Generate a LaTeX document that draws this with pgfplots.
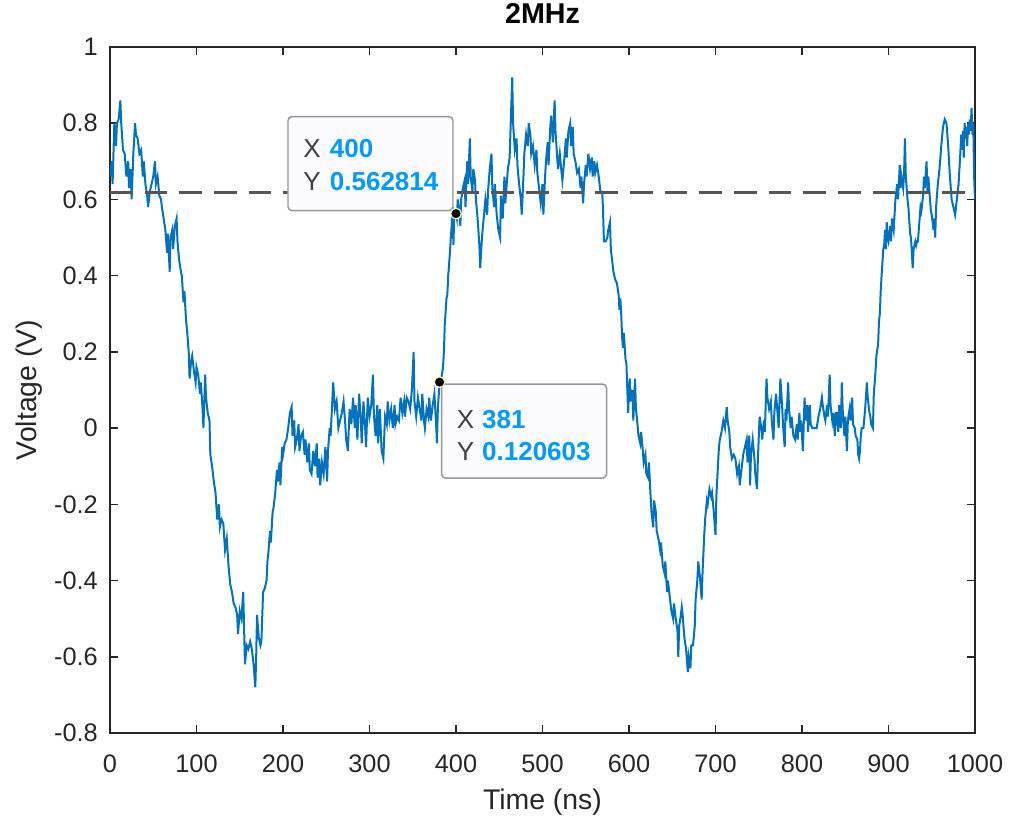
\documentclass[border=0pt]{standalone}
\usepackage{pgfplots}
\pgfplotsset{compat=1.18}
\usepackage{fontspec}
\setmainfont{Liberation Sans}
\definecolor{mblue}{RGB}{0,114,189}
\definecolor{axgray}{RGB}{38,38,38}
\definecolor{tipblue}{RGB}{0,153,255}
\definecolor{tipgray}{RGB}{64,64,64}
\definecolor{tipbg}{RGB}{250,250,255}
\definecolor{tipborder}{RGB}{150,150,150}
\definecolor{dashgray}{RGB}{85,85,85}

\pgfplotstableread{
x y
0 0.66
2 0.70
3 0.64
5 0.80
7 0.74
8 0.80
10 0.81
12 0.86
13 0.80
15 0.73
17 0.72
19 0.66
21 0.70
22 0.63
24 0.68
25 0.60
27 0.72
29 0.80
30 0.77
32 0.76
34 0.72
36 0.73
38 0.66
39 0.70
41 0.64
43 0.61
44 0.58
46 0.62
48 0.64
50 0.66
52 0.70
53 0.64
55 0.66
57 0.61
59 0.60
60 0.58
62 0.55
64 0.52
66 0.46
67 0.51
69 0.41
70 0.50
72 0.52
73 0.47
75 0.53
77 0.55
78 0.49
80 0.44
82 0.41
83 0.40
85 0.33
86 0.36
88 0.28
89 0.26
91 0.20
92 0.13
94 0.18
95 0.19
97 0.15
99 0.12
100 0.16
102 0.14
104 0.09
105 0.12
107 0.05
108 0.00
110 0.14
111 0.08
113 0.04
115 0.02
116 -0.07
118 -0.10
120 -0.14
122 -0.17
124 -0.24
126 -0.20
127 -0.26
129 -0.24
131 -0.25
133 -0.32
135 -0.29
137 -0.36
139 -0.41
141 -0.43
143 -0.46
145 -0.47
147 -0.49
148 -0.54
150 -0.48
152 -0.50
154 -0.43
155 -0.52
156 -0.62
158 -0.57
160 -0.58
162 -0.56
164 -0.58
166 -0.62
168 -0.68
169 -0.60
170 -0.49
172 -0.55
174 -0.57
175 -0.56
177 -0.43
179 -0.42
181 -0.40
182 -0.35
183 -0.33
185 -0.27
186 -0.30
188 -0.22
189 -0.21
191 -0.17
193 -0.11
194 -0.14
196 -0.09
197 -0.15
199 -0.05
200 -0.07
202 -0.04
204 -0.03
206 0.00
208 0.04
210 0.055
211 -0.02
213 0.02
214 -0.05
216 -0.03
218 0.01
219 -0.06
221 -0.02
223 -0.01
225 -0.07
226 -0.03
228 -0.09
230 -0.04
231 -0.11
233 -0.12
235 -0.06
237 -0.10
239 -0.04
240 -0.13
242 -0.08
243 -0.15
245 -0.09
247 -0.12
249 -0.05
251 -0.14
252 -0.06
254 0.00
255 -0.02
257 0.07
258 0.12
260 0.05
262 0.07
264 0.00
266 0.02
268 0.04
270 0.07
272 0.01
273 -0.03
275 -0.06
277 0.05
279 0.01
281 0.08
283 0.00
284 0.06
286 -0.03
288 0.09
290 0.02
291 -0.04
293 0.07
295 0.00
296 -0.05
298 0.08
300 0.03
302 0.06
304 0.14
305 0.04
307 -0.02
309 0.06
310 -0.04
312 0.05
314 -0.06
316 -0.08
318 0.03
320 0.01
321 0.07
323 0.02
325 0.05
327 0.00
329 0.06
330 0.01
332 0.03
334 0.02
336 0.08
338 0.04
340 0.07
341 0.03
343 0.08
345 0.07
347 0.05
349 0.10
351 0.20
352 0.07
354 0.03
356 0.08
358 0.05
360 0.02
361 0.09
363 0.02
364 0.00
366 0.05
368 0.03
369 0.08
371 0.02
373 0.06
375 0.09
377 0.01
378 -0.04
379 0.05
381 0.120603
383 0.13
385 0.16
386 0.20
387 0.27
389 0.34
390 0.35
391 0.40
393 0.46
394 0.50
395 0.53
396 0.58
397 0.48
398 0.56
400 0.562814
401 0.55
402 0.60
404 0.57
405 0.53
406 0.60
408 0.63
410 0.65
411 0.58
413 0.70
414 0.64
416 0.76
417 0.66
419 0.62
420 0.68
422 0.65
423 0.60
425 0.55
427 0.48
428 0.42
430 0.50
432 0.55
434 0.60
436 0.56
437 0.62
439 0.68
441 0.72
442 0.63
444 0.58
445 0.64
447 0.56
449 0.52
451 0.50
452 0.61
454 0.55
456 0.66
457 0.59
459 0.65
460 0.68
462 0.71
463 0.78
465 0.92
466 0.80
468 0.73
470 0.76
471 0.69
473 0.64
475 0.60
476 0.56
478 0.66
479 0.72
481 0.77
483 0.74
484 0.80
486 0.77
487 0.72
489 0.74
491 0.69
493 0.73
494 0.67
496 0.63
498 0.59
500 0.64
501 0.56
503 0.66
504 0.70
506 0.75
507 0.69
509 0.79
510 0.82
512 0.75
514 0.86
515 0.78
517 0.71
518 0.68
520 0.72
522 0.67
523 0.65
525 0.70
527 0.76
528 0.71
530 0.78
532 0.80
533 0.74
535 0.79
536 0.72
538 0.70
540 0.67
542 0.68
544 0.63
545 0.66
547 0.59
548 0.64
550 0.69
551 0.66
553 0.72
555 0.68
557 0.71
558 0.66
560 0.70
561 0.67
563 0.69
565 0.66
567 0.62
569 0.62
570 0.57
571 0.49
573 0.49
575 0.50
576 0.52
578 0.54
579 0.47
581 0.43
582 0.41
584 0.39
586 0.38
588 0.35
589 0.31
590 0.34
591 0.30
592 0.24
593 0.21
594 0.25
596 0.18
597 0.17
599 0.04
600 0.10
601 0.13
602 0.07
604 0.10
605 0.02
607 0.13
608 0.05
609 0.03
611 -0.02
613 -0.04
614 -0.01
616 -0.06
617 -0.09
619 -0.07
620 -0.12
622 -0.13
623 -0.09
625 -0.18
626 -0.22
628 -0.26
629 -0.19
631 -0.22
632 -0.27
634 -0.29
636 -0.32
637 -0.30
639 -0.36
641 -0.38
642 -0.35
644 -0.43
645 -0.40
647 -0.44
649 -0.48
651 -0.50
652 -0.46
654 -0.50
656 -0.53
657 -0.60
658 -0.52
660 -0.49
661 -0.47
662 -0.49
664 -0.55
666 -0.58
668 -0.64
669 -0.60
671 -0.63
672 -0.57
674 -0.57
676 -0.52
677 -0.45
679 -0.40
680 -0.35
682 -0.39
684 -0.45
685 -0.38
687 -0.28
688 -0.24
690 -0.19
691 -0.20
693 -0.16
695 -0.18
696 -0.17
698 -0.22
700 -0.28
701 -0.18
703 -0.09
704 -0.05
705 -0.03
707 -0.01
709 0.02
711 0.00
713 0.055
714 0.02
716 -0.01
717 -0.05
719 -0.08
721 -0.07
723 -0.08
725 -0.12
727 -0.10
728 -0.15
730 -0.11
732 -0.07
734 -0.05
736 -0.03
737 -0.09
739 -0.02
740 -0.15
741 -0.07
743 -0.03
745 -0.08
746 -0.12
748 -0.16
749 -0.08
751 0.03
753 0.00
754 -0.03
756 0.02
757 -0.01
759 0.13
760 0.08
762 0.05
764 0.07
765 0.02
767 -0.03
768 0.04
770 0.09
772 0.03
773 0.00
775 0.13
777 0.06
778 0.01
780 -0.05
781 0.05
782 0.02
784 0.12
785 0.05
787 0.00
788 0.03
790 -0.02
792 -0.03
794 0.01
795 -0.03
797 0.04
798 -0.01
799 0.02
801 -0.06
803 0.08
804 0.02
806 0.06
807 -0.01
809 0.06
810 0.01
812 0.00
814 0.00
815 0.00
817 0.00
819 0.03
821 0.05
823 0.08
824 0.06
826 0.03
827 0.02
829 0.06
830 0.03
832 0.14
833 0.06
835 0.02
836 0.04
838 -0.02
839 0.04
840 0.04
842 -0.01
843 0.06
845 0.00
846 0.12
847 0.05
849 -0.02
850 0.03
852 -0.06
853 0.02
855 0.05
856 0.02
858 0.08
859 0.01
861 0.00
862 -0.02
864 -0.03
865 -0.07
866 -0.08
867 -0.06
868 -0.02
869 0.00
871 0.00
873 0.05
875 0.12
876 0.08
878 0.04
879 0.03
880 0.01
882 0.00
883 0.09
885 0.15
886 0.19
888 0.22
889 0.28
890 0.30
891 0.36
892 0.40
894 0.47
895 0.48
896 0.52
897 0.47
898 0.54
899 0.50
900 0.49
902 0.53
903 0.49
904 0.55
906 0.52
907 0.56
908 0.60
910 0.64
911 0.60
913 0.69
914 0.63
915 0.66
917 0.63
918 0.67
919 0.76
920 0.66
922 0.60
923 0.58
925 0.51
926 0.50
927 0.46
928 0.42
929 0.47
931 0.49
932 0.48
933 0.49
934 0.49
936 0.55
937 0.58
938 0.57
940 0.61
941 0.66
942 0.63
944 0.70
945 0.62
946 0.66
948 0.60
949 0.57
950 0.56
952 0.52
953 0.55
954 0.50
955 0.58
957 0.64
959 0.68
961 0.74
963 0.79
965 0.81
967 0.80
969 0.74
971 0.66
973 0.60
975 0.58
977 0.56
979 0.60
981 0.64
983 0.72
984 0.77
985 0.73
986 0.78
987 0.71
988 0.80
989 0.76
990 0.79
991 0.74
992 0.80
993 0.77
994 0.81
995 0.78
996 0.84
997 0.77
998 0.80
999 0.66
1000 0.60
}\signal

\begin{document}
\begin{tikzpicture}
\begin{axis}[
  scale only axis,
  width=648.75pt, height=514.5pt,
  xmin=0, xmax=1000, ymin=-0.8, ymax=1,
  xtick={0,100,200,300,400,500,600,700,800,900,1000},
  xticklabels={0,100,200,300,400,500,600,700,800,900,1000},
  ytick={-0.8,-0.6,-0.4,-0.2,0,0.2,0.4,0.6,0.8,1},
  yticklabels={-0.8,-0.6,-0.4,-0.2,0,0.2,0.4,0.6,0.8,1},
  tick align=inside, tick pos=both,
  major tick length=6pt,
  axis line style={axgray, line width=1.1pt},
  every tick/.style={axgray, line width=1.1pt},
  tick label style={font=\fontsize{19}{22}\selectfont, text=axgray},
  xticklabel style={anchor=base, inner sep=0pt, yshift=-30pt},
  yticklabel style={anchor=east, inner sep=0pt, xshift=-9pt},
  xlabel={Time (ns)}, ylabel={Voltage (V)},
  label style={font=\fontsize{21.3}{25}\selectfont, text=axgray},
  xlabel style={at={(axis description cs:0.5,-0.1122)}, anchor=base, inner sep=0pt},
  ylabel style={at={(axis description cs:-0.0844,0.5)}, anchor=base, inner sep=0pt},
  title={2MHz},
  title style={font=\fontsize{21.5}{25}\selectfont\bfseries, text=black, at={(axis description cs:0.5,1.0219)}, anchor=base, inner sep=0pt},
]
\addplot[mblue, line width=1.5pt] table[x=x, y=y] {\signal};
\addplot[dashgray, line width=2.2pt, dash pattern=on 17pt off 9pt] coordinates {(0,0.617) (1000,0.617)};
% data tip 1
\draw[tipborder, fill=tipbg, line width=1.1pt, rounded corners=3pt]
  ([shift={(-126pt,72.75pt)}]axis cs:400,0.562814) rectangle ([shift={(-2.25pt,2.25pt)}]axis cs:400,0.562814);
\node[anchor=base west, inner sep=0pt, font=\fontsize{19.5}{22}\selectfont]
  at ([shift={(-114.75pt,42pt)}]axis cs:400,0.562814)
  {\makebox[20pt][l]{\color{tipgray}X}{\color{tipblue}\bfseries 400}};
\node[anchor=base west, inner sep=0pt, font=\fontsize{19.5}{22}\selectfont]
  at ([shift={(-114.75pt,17.25pt)}]axis cs:400,0.562814)
  {\makebox[20pt][l]{\color{tipgray}Y}{\color{tipblue}\bfseries 0.562814}};
% data tip 2
\draw[tipborder, fill=tipbg, line width=1.1pt, rounded corners=3pt]
  ([shift={(1.5pt,-1.5pt)}]axis cs:381,0.120603) rectangle ([shift={(125.25pt,-72pt)}]axis cs:381,0.120603);
\node[anchor=base west, inner sep=0pt, font=\fontsize{19.5}{22}\selectfont]
  at ([shift={(12.75pt,-34.5pt)}]axis cs:381,0.120603)
  {\makebox[19pt][l]{\color{tipgray}X}{\color{tipblue}\bfseries 381}};
\node[anchor=base west, inner sep=0pt, font=\fontsize{19.5}{22}\selectfont]
  at ([shift={(12.75pt,-58.5pt)}]axis cs:381,0.120603)
  {\makebox[19pt][l]{\color{tipgray}Y}{\color{tipblue}\bfseries 0.120603}};
\addplot[only marks, mark=*, mark size=4pt, mark options={fill=black, draw=yellow!25, line width=0.9pt}]
  coordinates {(400,0.562814) (381,0.120603)};
\end{axis}
\path (-82.5pt,-67.5pt) rectangle (675.75pt,549.75pt);
\end{tikzpicture}
\end{document}
